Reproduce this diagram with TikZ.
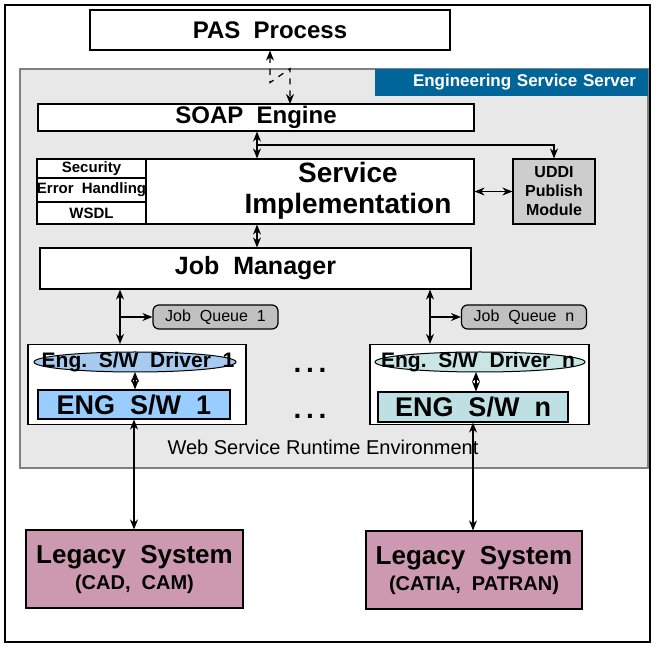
\documentclass[tikz,border=0pt]{standalone}
\usepackage{fontspec}
\setmainfont{Liberation Sans}
\usetikzlibrary{arrows.meta, positioning}
\definecolor{srvBlue}{RGB}{0,102,153}
\definecolor{srvGray}{RGB}{232,232,232}
\definecolor{engBlue}{RGB}{153,204,255}
\definecolor{engTeal}{RGB}{190,224,226}
\definecolor{ellBlue}{RGB}{166,202,240}
\definecolor{ellTeal}{RGB}{200,230,230}
\definecolor{legacy}{RGB}{204,153,176}
\definecolor{queueGray}{RGB}{192,192,192}
\newcommand{\fsz}[1]{\fontsize{#1}{#1}\selectfont}

\begin{document}
\begin{tikzpicture}[
  x=0.5pt, y=-0.5pt,
  box/.style={draw, fill=white, line width=0.6pt, inner sep=0pt, align=center, font=\bfseries},
  subbox/.style={box, minimum width=54.5pt, font=\bfseries\fsz{7.5}},
  queue/.style={box, fill=queueGray, rounded corners=3pt, minimum width=62.5pt,
                minimum height=12pt, font=\fsz{8}},
  conn/.style={<->, line width=0.6pt},
  >={Stealth[length=5pt,width=4pt]}
]
  \useasboundingbox (0,0) rectangle (654,646);
  \draw[line width=0.6pt] (5,5) rectangle (650,642);

  % server area
  \node[draw=gray, fill=srvGray, line width=0.6pt, minimum width=314pt,
        minimum height=199.5pt, inner sep=0] (server) at (334,268.5) {};
  \node[fill=srvBlue, text=white, font=\bfseries\fsz{8.5}, inner ysep=0pt,
        inner xsep=6pt, minimum height=13.5pt, text width=124.5pt, align=right]
    (esslabel) at (511.5,82.5) {Engineering Service Server};

  \node[box, minimum width=180pt, minimum height=20pt, font=\bfseries\fsz{12}]
    (pas) at (270,30) {PAS~~Process};
  \node[box, minimum width=218pt, minimum height=13.5pt, font=\bfseries\fsz{12}]
    (soap) at (256,117.5) {SOAP~~Engine};

  % service implementation
  \node[subbox, minimum height=9.5pt] (security) at (91.5,168.5) {Security};
  \node[subbox, minimum height=12pt] (errhand) at (91.5,190) {Error~~Handling};
  \node[subbox, minimum height=11pt] (wsdl) at (91.5,213) {WSDL};
  \node[box, minimum width=164pt, minimum height=32.5pt] (impl) at (310,191.5) {};
  \node[font=\bfseries\fsz{14}, align=center, inner sep=0pt]
    (implText) at (348,191) {Service\\[1.5pt]Implementation};
  \node[box, fill=queueGray!80, minimum width=41pt, minimum height=32.5pt,
        font=\bfseries\fsz{8}] (uddi) at (554,191.5) {UDDI\\[1.5pt]Publish\\[1.5pt]Module};

  \node[box, minimum width=215.5pt, minimum height=20.5pt, font=\bfseries\fsz{12.5}]
    (jobm) at (255.5,268.5) {Job~~Manager};

  \node[queue] (jqOne) at (215.5,317) {Job~~Queue~~1};
  \node[queue] (jqN) at (524,317) {Job~~Queue~~n};

  % driver boxes
  \node[box, minimum width=109pt, minimum height=40pt] (drvOne) at (137,384.5) {};
  \node[box, minimum width=109.5pt, minimum height=40pt] (drvN) at (479.5,384.5) {};
  \draw[fill=ellBlue, line width=0.5pt] (135,362) ellipse [x radius=50.5pt, y radius=5pt];
  \draw[fill=ellTeal, line width=0.5pt] (480,362) ellipse [x radius=52.5pt, y radius=5pt];
  \node[font=\bfseries\fsz{10.5}, inner sep=0pt, anchor=base] (drvOneTxt) at (138,368) {Eng.~~S/W~~Driver~~1};
  \node[font=\bfseries\fsz{10.5}, inner sep=0pt, anchor=base] (drvNTxt) at (478,368) {Eng.~~S/W~~Driver~~n};
  \node[box, fill=engBlue, minimum width=96pt, minimum height=14.5pt, font=\bfseries\fsz{13.5}]
    (engOne) at (134,404.5) {ENG~~S/W~~1};
  \node[box, fill=engTeal, minimum width=95pt, minimum height=15pt, font=\bfseries\fsz{13.5}]
    (engN) at (473,407) {ENG~~S/W~~n};

  \node[font=\bfseries\fsz{14}] (dotsA) at (310,370) {.\,.\,.};
  \node[font=\bfseries\fsz{14}] (dotsB) at (310,416) {.\,.\,.};
  \node[font=\fsz{10}] (wsre) at (323,447) {Web Service Runtime Environment};

  % legacy systems
  \node[box, fill=legacy, minimum width=108.5pt, minimum height=39pt, font=\bfseries\fsz{13}]
    (legOne) at (134.5,569) {Legacy~~System\\[0pt]{\fsz{10}(CAD,~~CAM)}};
  \node[box, fill=legacy, minimum width=108pt, minimum height=39pt, font=\bfseries\fsz{13}]
    (legN) at (474,570) {Legacy~~System\\[0pt]{\fsz{10}(CATIA,~~PATRAN)}};

  % connectors
  \coordinate (soapIn) at (290,104);
  \draw[conn, dashed] (pas.south) -- ++(0,32) -- ++(20,-14) -- (soapIn);
  \coordinate (tapA) at (257,145);
  \draw[conn] (tapA |- soap.south) -- (tapA |- impl.north);
  \draw[->, line width=0.6pt] (tapA) -| (uddi.north);
  \draw[conn] (impl.east) -- (uddi.west);
  \draw[conn] (tapA |- impl.south) -- (tapA |- jobm.north);

  \coordinate (tapOne) at (120,317);
  \coordinate (tapN) at (430,317);
  \draw[conn] (tapOne |- jobm.south) -- (tapOne |- drvOne.north);
  \draw[->, line width=0.6pt] (tapOne) -- (jqOne.west);
  \draw[conn] (tapN |- jobm.south) -- (tapN |- drvN.north);
  \draw[->, line width=0.6pt] (tapN) -- (jqN.west);

  \coordinate (ellOneBot) at (135,372);
  \coordinate (ellNBot) at (476,372);
  \draw[conn] (ellOneBot) -- (ellOneBot |- engOne.north);
  \draw[conn] (ellNBot) -- (ellNBot |- engN.north);

  \draw[conn] (engOne.south) -- (engOne.south |- legOne.north);
  \draw[conn] (engN.south) -- (engN.south |- legN.north);
\end{tikzpicture}
\end{document}
